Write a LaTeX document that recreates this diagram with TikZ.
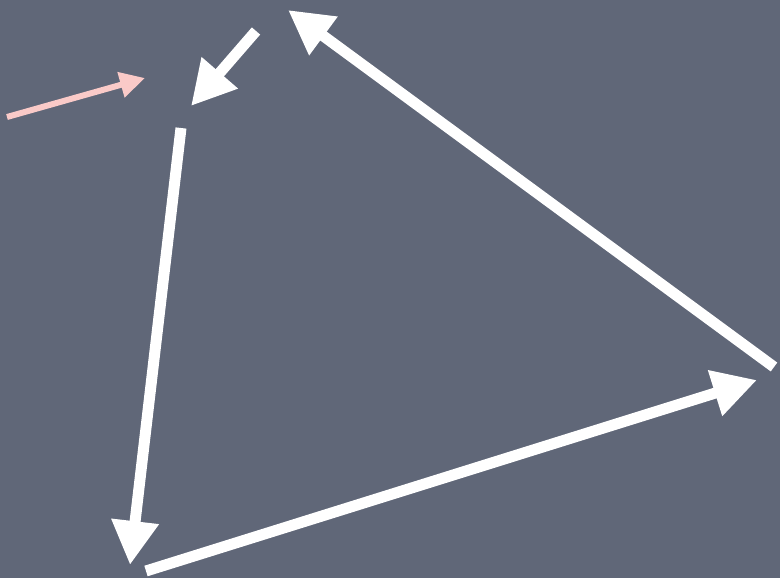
\documentclass[tikz,border=0pt]{standalone}
\usepackage{tikz}
\usetikzlibrary{arrows.meta}
\definecolor{board}{RGB}{96,103,120}
\definecolor{chalkpink}{RGB}{250,202,200}
\tikzset{
  chalk/.style={white, line width=0.22cm, -{Triangle[length=0.88cm, width=0.9cm]}},
  pinkchalk/.style={chalkpink, line width=0.12cm, -{Triangle[length=0.5cm, width=0.5cm]}}
}
\begin{document}
\begin{tikzpicture}[x=0.02cm, y=-0.02cm]
% board
\fill[board] (0,0) rectangle (780,578);
\useasboundingbox (0,0) rectangle (780,578);
% end points of the strokes
\coordinate (pinkA) at (7,117);
\coordinate (pinkB) at (145,78);
\coordinate (smallA) at (256,31);
\coordinate (smallB) at (191,106);
\coordinate (left) at (181,128);
\coordinate (bottomL) at (130,565);
\coordinate (bottomR) at (146,571);
\coordinate (rightB) at (757,380);
\coordinate (rightA) at (774,367);
\coordinate (top) at (288,10);
% pink entry arrow
\draw[pinkchalk] (pinkA) -- (pinkB);
% white cycle
\draw[chalk] (smallA) -- (smallB);
\draw[chalk] (left) -- (bottomL);
\draw[chalk] (bottomR) -- (rightB);
\draw[chalk] (rightA) -- (top);
\end{tikzpicture}
\end{document}
